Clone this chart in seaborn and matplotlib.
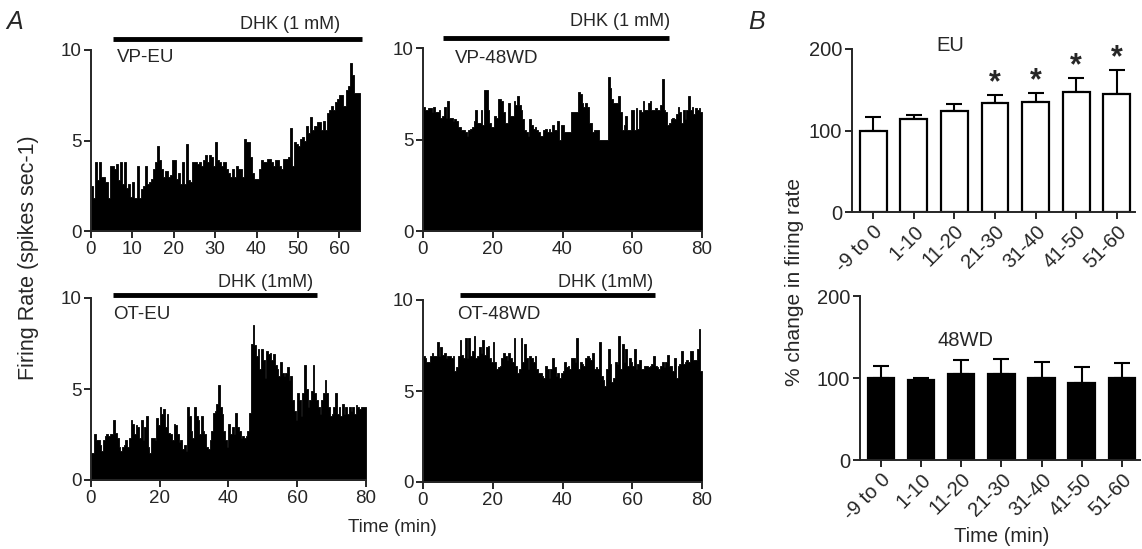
import numpy as np
import pandas as pd
import matplotlib
matplotlib.use("Agg")
import matplotlib.pyplot as plt
import seaborn as sns

# firing rate traces, 0.5 min bins (spikes/sec)
BIN = 0.5
vp_eu = [
    2.5, 1.8, 3.8, 2.8, 3.8, 3.0, 3.0, 2.7, 1.8, 3.6,
    3.6, 3.4, 3.7, 2.8, 3.8, 2.6, 3.8, 2.4, 2.6, 1.9,
    2.7, 1.8, 3.6, 1.8, 2.3, 2.5, 3.6, 2.6, 2.7, 2.9,
    3.4, 3.8, 4.7, 3.9, 3.4, 3.0, 3.3, 3.0, 3.1, 3.9,
    3.9, 2.9, 3.2, 2.6, 3.8, 2.6, 4.8, 2.8, 2.7, 3.8,
    3.8, 3.7, 3.8, 3.6, 3.9, 4.2, 3.8, 4.2, 4.1, 3.6,
    4.9, 3.9, 3.8, 3.6, 3.8, 3.4, 3.2, 3.0, 3.4, 3.0,
    3.6, 3.4, 3.4, 3.0, 5.1, 4.9, 4.9, 4.1, 3.2, 2.9,
    2.9, 3.4, 3.9, 3.8, 3.8, 4.0, 4.0, 3.8, 3.6, 3.9,
    3.9, 3.6, 3.4, 4.0, 4.0, 4.1, 5.7, 3.6, 4.9, 4.8,
    4.7, 5.1, 5.2, 5.0, 5.8, 5.4, 6.3, 5.6, 5.8, 6.0,
    6.0, 5.6, 6.1, 5.6, 6.5, 6.7, 6.9, 6.7, 7.1, 7.3,
    7.5, 7.5, 6.9, 7.8, 8.0, 9.3, 8.6, 7.6, 7.6, 7.6,
]
vp_48wd = [
    6.8, 6.6, 6.6, 6.7, 6.7, 6.5, 6.8, 6.5, 6.5, 6.6, 6.2, 6.3,
    6.8, 6.2, 7.1, 6.2, 6.2, 6.0, 6.1, 6.0, 5.7, 5.7, 5.5, 5.5,
    5.4, 5.2, 5.5, 5.6, 5.7, 6.0, 6.6, 5.9, 5.9, 6.6, 5.8, 7.7,
    7.7, 6.6, 5.9, 5.7, 5.7, 6.3, 6.2, 7.2, 7.2, 7.1, 6.5, 5.9,
    5.9, 7.0, 6.3, 6.3, 7.1, 6.9, 7.4, 6.9, 6.6, 6.1, 5.5, 5.4,
    5.2, 6.1, 5.8, 5.6, 5.7, 5.5, 5.4, 5.2, 5.2, 5.5, 5.6, 5.4,
    5.6, 5.4, 5.8, 5.5, 5.5, 6.0, 5.0, 5.8, 5.8, 5.4, 5.4, 5.4,
    5.4, 6.5, 6.5, 6.5, 6.5, 7.6, 7.5, 7.0, 6.8, 7.0, 6.8, 5.9,
    5.9, 5.4, 5.5, 5.5, 5.5, 5.0, 5.0, 5.0, 5.0, 5.0, 8.4, 7.8,
    7.2, 7.0, 7.0, 7.0, 7.4, 6.5, 5.5, 5.8, 6.3, 5.5, 5.5, 6.6,
    6.6, 5.5, 6.7, 5.6, 6.6, 6.5, 7.1, 6.6, 6.6, 7.0, 7.1, 6.6,
    6.6, 6.7, 6.6, 6.6, 6.9, 8.3, 6.6, 6.5, 5.8, 5.9, 6.1, 6.2,
    6.1, 6.4, 6.8, 6.5, 5.9, 6.6, 6.1, 6.6, 7.4, 6.6, 6.8, 6.4,
    6.7, 6.6, 6.7, 6.5,
]
ot_eu = [
    1.5, 1.5, 2.5, 2.2, 2.2, 1.9, 1.6, 2.2, 2.4, 2.5,
    2.4, 2.5, 2.5, 3.3, 2.6, 2.3, 1.8, 1.6, 1.8, 1.9,
    2.2, 1.8, 2.3, 3.3, 3.1, 2.5, 3.0, 2.9, 2.3, 3.3,
    2.2, 2.9, 3.5, 1.8, 1.5, 2.3, 2.3, 2.2, 3.4, 3.0,
    4.0, 3.6, 3.9, 2.9, 3.6, 2.6, 2.5, 2.2, 3.1, 3.0,
    2.5, 2.1, 2.2, 1.7, 1.9, 1.6, 4.0, 3.5, 2.7, 2.3,
    4.0, 3.5, 3.3, 2.5, 3.5, 2.7, 2.5, 1.8, 1.7, 2.2,
    2.7, 3.7, 3.8, 4.2, 5.2, 4.0, 3.6, 2.7, 2.2, 1.8,
    3.1, 2.5, 2.9, 2.5, 3.7, 2.9, 2.7, 2.3, 2.4, 2.3,
    2.4, 2.7, 3.7, 7.5, 8.5, 7.4, 6.8, 7.2, 6.1, 7.2,
    6.6, 5.6, 7.1, 6.9, 7.0, 6.6, 6.9, 6.3, 6.1, 5.7,
    6.5, 5.9, 5.7, 5.9, 6.2, 5.5, 5.7, 4.4, 3.8, 3.3,
    4.8, 4.4, 3.5, 4.8, 6.3, 5.0, 4.0, 4.4, 4.9, 6.3,
    4.8, 4.4, 4.0, 3.6, 4.4, 4.8, 5.5, 4.8, 4.0, 3.5,
    3.6, 4.0, 4.8, 3.6, 4.0, 3.5, 4.2, 3.6, 4.0, 3.6,
    4.0, 3.8, 4.0, 3.6, 4.1, 4.0, 3.9, 4.0, 4.0, 4.0,
]
ot_48wd = [
    6.9, 6.8, 6.6, 6.6, 6.9, 7.1, 6.9, 6.9, 7.7, 6.9, 7.4, 7.0,
    7.1, 6.8, 6.9, 6.9, 6.8, 6.9, 6.1, 6.3, 6.9, 7.8, 7.0, 6.8,
    7.9, 6.8, 7.9, 6.9, 7.2, 8.0, 6.8, 6.9, 7.4, 7.1, 7.8, 7.0,
    7.4, 7.5, 6.8, 6.6, 7.7, 6.6, 6.2, 6.3, 6.4, 6.8, 7.1, 6.9,
    6.7, 7.1, 6.8, 6.6, 7.9, 6.4, 6.0, 6.2, 7.9, 6.6, 7.6, 6.8,
    6.2, 6.9, 6.8, 6.6, 6.9, 6.2, 6.0, 6.0, 5.8, 5.7, 6.4, 6.2,
    5.7, 6.2, 6.8, 6.3, 5.8, 6.0, 5.7, 6.0, 6.1, 6.6, 6.3, 6.4,
    6.2, 6.8, 6.8, 6.6, 7.9, 6.2, 6.6, 6.5, 6.4, 6.8, 6.9, 6.8,
    6.7, 7.1, 6.2, 6.3, 6.2, 7.7, 5.8, 5.6, 5.3, 6.2, 7.3, 6.5,
    5.5, 5.7, 6.6, 6.5, 8.0, 6.2, 7.6, 6.6, 7.3, 6.4, 6.8, 6.6,
    6.4, 7.3, 6.2, 6.5, 6.7, 6.2, 6.2, 6.4, 6.4, 6.3, 6.4, 6.5,
    6.9, 6.4, 6.3, 6.2, 6.4, 6.6, 6.3, 6.6, 7.0, 6.4, 6.4, 6.1,
    6.8, 5.7, 6.4, 6.5, 7.2, 6.5, 6.6, 6.7, 6.6, 7.2, 7.2, 6.7,
    6.7, 7.3, 8.4, 6.1,
]

# panel B, % change in firing rate (mean, upper SEM)
periods = ["-9 to 0", "1-10", "11-20", "21-30", "31-40", "41-50", "51-60"]
eu_mean = [100, 114, 124, 134, 135, 147, 145]
eu_sem = [17, 5, 9, 10, 11, 18, 29]
eu_star = [False, False, False, True, True, True, True]
wd_mean = [100, 97, 105, 105, 100, 94, 100]
wd_sem = [15, 3, 17, 18, 19, 20, 18]

sns.set_style("ticks")
plt.rcParams["font.family"] = ["Liberation Sans", "DejaVu Sans"]
plt.rcParams["font.size"] = 13
plt.rcParams["axes.linewidth"] = 1.4
plt.rcParams["xtick.major.width"] = 1.4
plt.rcParams["ytick.major.width"] = 1.4
plt.rcParams["xtick.major.size"] = 5
plt.rcParams["ytick.major.size"] = 5

FS_A = 13.5
FS_B = 14.5

W, H = 1142, 549
fig = plt.figure(figsize=(W / 100, H / 100), dpi=100)


def px_axes(x0, x1, y_top, y_bot):
    return fig.add_axes([x0 / W, 1 - y_bot / H, (x1 - x0) / W, (y_bot - y_top) / H])


def trace(ax, rates, xmax, step, label, label_xy, dhk, line_x, line_y, text_xy):
    t = np.arange(len(rates)) * BIN + BIN / 2
    df = pd.DataFrame({"t": t, "rate": rates})
    sns.histplot(data=df, x="t", weights="rate", binwidth=BIN, binrange=(0, len(rates) * BIN),
                 element="step", fill=True, color="black", alpha=1, linewidth=0.6, ax=ax)
    ax.set_xlim(0, xmax)
    ax.set_ylim(0, 10)
    ax.set_xticks(np.arange(0, xmax + 0.1, step))
    ax.set_yticks([0, 5, 10])
    ax.set_xlabel("")
    ax.set_ylabel("")
    ax.tick_params(labelsize=FS_A, pad=2)
    sns.despine(ax=ax)
    ax.plot(line_x, [line_y, line_y], color="black", lw=3.5, clip_on=False, solid_capstyle="butt")
    ax.text(text_xy[0], text_xy[1], dhk, ha="right", va="center", fontsize=13)
    ax.text(label_xy[0], label_xy[1], label, ha="left", va="center", fontsize=FS_A)


ax1 = px_axes(91, 360, 50, 231)
trace(ax1, vp_eu, 65, 10, "VP-EU", (6.3, 9.6), "DHK (1 mM)", [5.3, 65.4], 10.6, (60.3, 11.4))
ax2 = px_axes(423, 702, 48, 231)
trace(ax2, vp_48wd, 80, 20, "VP-48WD", (9.2, 9.45), "DHK (1 mM)", [5.7, 70.5], 10.55, (70.8, 11.45))
ax3 = px_axes(91, 366, 298, 480)
trace(ax3, ot_eu, 80, 20, "OT-EU", (6.4, 9.1), "DHK (1mM)", [6.4, 65.7], 10.15, (64.5, 10.85))
ax4 = px_axes(423, 702, 300, 482)
trace(ax4, ot_48wd, 80, 20, "OT-48WD", (9.7, 9.2), "DHK (1mM)", [10.6, 66.5], 10.25, (66, 10.95))


def bars(ax, mean, sem, fill, title, title_xy):
    df = pd.DataFrame({"period": periods, "pct": mean})
    sns.barplot(data=df, x="period", y="pct", color=fill, edgecolor="black",
                linewidth=1.6, width=0.66, saturation=1, ax=ax)
    x = np.arange(len(periods))
    ax.errorbar(x, mean, yerr=[np.zeros(len(mean)), sem], fmt="none", ecolor="black",
                elinewidth=1.5, capsize=6, capthick=1.5, zorder=0)
    ax.set_xlim(-0.52, 6.45)
    ax.set_ylim(0, 200)
    ax.set_yticks([0, 100, 200])
    ax.set_xlabel("")
    ax.set_ylabel("")
    ax.tick_params(labelsize=FS_B, pad=2)
    plt.setp(ax.get_xticklabels(), rotation=45, ha="right", rotation_mode="anchor")
    sns.despine(ax=ax)
    ax.text(title_xy[0], title_xy[1], title, ha="center", va="center", fontsize=FS_B)


bx1 = px_axes(852, 1135, 49, 212)
bars(bx1, eu_mean, eu_sem, "white", "EU", (1.9, 204))
for i, s in enumerate(eu_star):
    if s:
        bx1.text(i, eu_mean[i] + eu_sem[i] - 4, "*", ha="center", va="bottom",
                 fontsize=22, fontweight="bold")
bx2 = px_axes(860, 1140, 296, 460)
bars(bx2, wd_mean, wd_sem, "black", "48WD", (2.1, 146))

fig.text(29 / W, 1 - 258 / H, "Firing Rate (spikes sec-1)", rotation=90, ha="center", va="center", fontsize=15.5)
fig.text(392 / W, 1 - 527 / H, "Time (min)", ha="center", va="center", fontsize=13.5)
fig.text(795 / W, 1 - 282 / H, "% change in firing rate", rotation=90, ha="center", va="center", fontsize=15)
fig.text(1002 / W, 1 - 536 / H, "Time (min)", ha="center", va="center", fontsize=FS_B)
fig.text(15 / W, 1 - 22 / H, "A", ha="center", va="center", fontsize=18, style="italic")
fig.text(757 / W, 1 - 22 / H, "B", ha="center", va="center", fontsize=18, style="italic")

fig.savefig("out.png", dpi=100)
